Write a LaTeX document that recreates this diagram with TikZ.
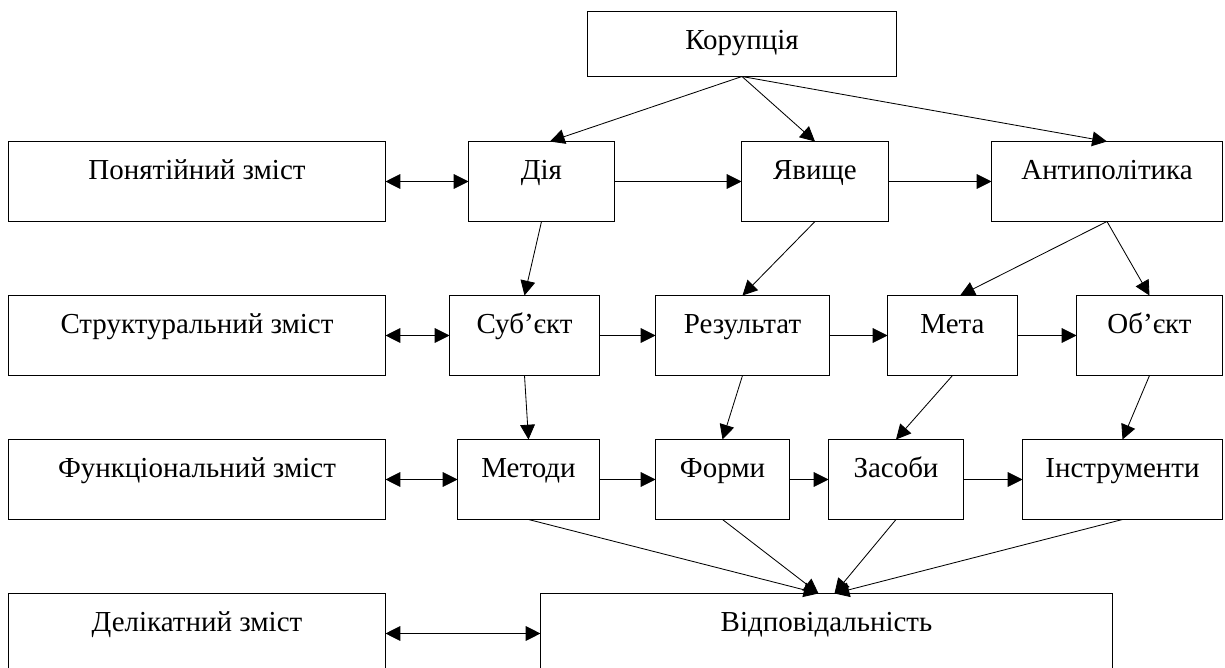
\documentclass[tikz,border=0pt]{standalone}
\usepackage{fontspec}
\setmainfont{Liberation Serif}
\usetikzlibrary{arrows.meta, positioning}

\begin{document}
\begin{tikzpicture}[
x=0.025cm, y=-0.025cm,
font=\fontsize{20.6pt}{24pt}\selectfont,
box/.style={draw,
rectangle,
line width=0.7pt,
inner sep=0pt,
text height=0.95cm,
text depth=1.025cm,
align=center},
arrow/.style={-{Triangle[length=10.5pt, width=10.5pt]}, line width=0.6pt},
darrow/.style={{Triangle[length=10.5pt, width=10.5pt]}-{Triangle[length=10.5pt, width=10.5pt]}, line width=0.6pt}
]

\useasboundingbox (0,0) rectangle (1225,668);

\node[box, minimum width=7.7cm, text depth=0.65cm] (kor) at (742,44) {Корупція};

% rows of boxes
\node[box, minimum width=9.4cm] (pon) at (197,181.5) {Понятійний зміст};
\node[box, minimum width=3.625cm] (dia) at (541.5,181.5) {Дія};
\node[box, minimum width=3.65cm] (yav) at (815,181.5) {Явище};
\node[box, minimum width=5.75cm] (anti) at (1107,181.5) {Антиполітика};

\node[box, minimum width=9.4cm] (str) at (197,335.5) {Структуральний зміст};
\node[box, minimum width=3.725cm] (subj) at (524.5,335.5) {Суб’єкт};
\node[box, minimum width=4.325cm] (rez) at (742.5,335.5) {Результат};
\node[box, minimum width=3.225cm] (meta) at (952.5,335.5) {Мета};
\node[box, minimum width=3.625cm] (obj) at (1149.5,335.5) {Об’єкт};

\node[box, minimum width=9.4cm] (fun) at (197,479.5) {Функціональний зміст};
\node[box, minimum width=3.525cm] (met) at (528.5,479.5) {Методи};
\node[box, minimum width=3.325cm] (form) at (722.5,479.5) {Форми};
\node[box, minimum width=3.35cm] (zas) at (896,479.5) {Засоби};
\node[box, minimum width=4.975cm] (instr) at (1122.5,479.5) {Інструменти};

\node[box, minimum width=9.4cm] (del) at (197,633.5) {Делікатний зміст};
\node[box, minimum width=14.275cm] (vid) at (826.5,633.5) {Відповідальність};

% from the top
\draw[arrow] (kor.south) -- ([xshift=0.21cm]dia.north);
\draw[arrow] (kor.south) -- (yav.north);
\draw[arrow] (kor.south) -- (anti.north);

% left side
\draw[darrow] (pon.east) -- (dia.west);
\draw[darrow] (str.east) -- (subj.west);
\draw[darrow] (fun.east) -- (met.west);
\draw[darrow] (del.east) -- (vid.west);

% along the rows
\draw[arrow] (dia) -- (yav);
\draw[arrow] (yav) -- (anti);
\draw[arrow] (subj) -- (rez);
\draw[arrow] (rez) -- (meta);
\draw[arrow] (meta) -- (obj);
\draw[arrow] (met) -- (form);
\draw[arrow] (form) -- (zas);
\draw[arrow] (zas) -- (instr);

% downwards
\draw[arrow] (dia.south) -- (subj.north);
\draw[arrow] (yav.south) -- (rez.north);
\draw[arrow] (anti.south) -- ([xshift=0.19cm]meta.north);
\draw[arrow] (anti.south) -- (obj.north);
\draw[arrow] (subj.south) -- (met.north);
\draw[arrow] (rez.south) -- (form.north);
\draw[arrow] (meta.south) -- (zas.north);
\draw[arrow] (obj.south) -- (instr.north);

\draw[arrow] (met.south) -- ([xshift=-0.2cm]vid.north);
\draw[arrow] (form.south) -- ([xshift=-0.2cm]vid.north);
\draw[arrow] (zas.south) -- ([xshift=0.2cm]vid.north);
\draw[arrow] (instr.south) -- ([xshift=0.2cm]vid.north);

\end{tikzpicture}
\end{document}
